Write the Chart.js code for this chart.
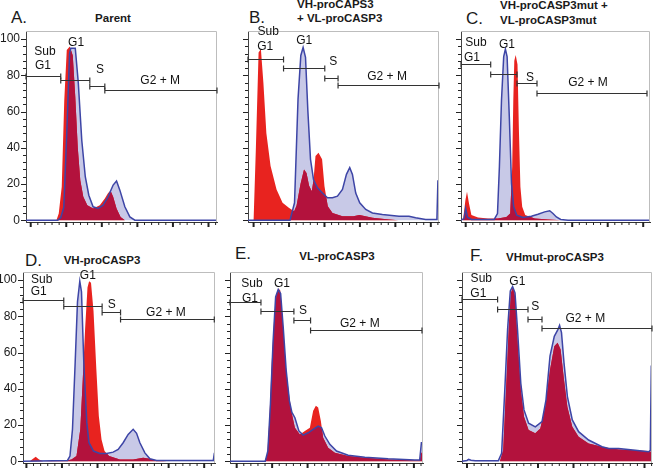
<!DOCTYPE html>
<html>
<head>
<meta charset="utf-8">
<script src="https://cdn.jsdelivr.net/npm/chart.js@4.4.1/dist/chart.umd.min.js"></script>
<style>
body{margin:0;background:#fff;}
#fig{position:relative;width:653px;height:471px;overflow:hidden;font-family:"Liberation Sans",Arial,sans-serif;color:#1a1a1a;}
#fig canvas{position:absolute;}
.t{position:absolute;white-space:nowrap;transform:translateY(-50%);line-height:1;}
.c{transform:translate(-50%,-50%);}
.letter{font-size:17px;}
.name{font-size:11.5px;font-weight:bold;}
</style>
</head>
<body>
<div id="fig">
  <div class="t letter" style="left:11px;top:17px">A.</div>
  <div class="t name c" style="left:113px;top:19px">Parent</div>
  <div class="t letter" style="left:249px;top:17px">B.</div>
  <div class="t name" style="left:297px;top:5px">VH-proCAPS3</div>
  <div class="t name" style="left:297px;top:19px">+ VL-proCASP3</div>
  <div class="t letter" style="left:466px;top:18px">C.</div>
  <div class="t name" style="left:500px;top:6px">VH-proCASP3mut +</div>
  <div class="t name" style="left:500px;top:21px">VL-proCASP3mut</div>
  <div class="t letter" style="left:25px;top:260px">D.</div>
  <div class="t name c" style="left:102px;top:261px">VH-proCASP3</div>
  <div class="t letter" style="left:235px;top:253px">E.</div>
  <div class="t name c" style="left:337px;top:257px">VL-proCASP3</div>
  <div class="t letter" style="left:470px;top:255px">F.</div>
  <div class="t name c" style="left:555px;top:258px">VHmut-proCASP3</div>
</div>
<script>
// DNA content histograms: [channel, % of max]
const redA = [[-4.7,0],[25.7,0],[28,3.7],[31,18.5],[33.5,66],[36,94],[39,96],[42,91],[44.5,68],[47,40],[49.5,22],[52.5,13],[56.5,8.3],[62.3,6.5],[69,8.3],[74,12],[77.3,15],[79.7,16.2],[82.3,13],[85.7,6.5],[89.7,1.8],[94,0],[186,0]];
const blueA = [[-4.7,0],[27,0],[30,1.5],[33,7],[36,48],[38.8,92],[40,95],[44.5,95],[47.5,76],[51,44],[54.5,24],[58,13.8],[62.3,7.4],[67.3,6.5],[72.3,8.3],[77.3,13],[82.3,19.4],[85.7,21.6],[89,16.6],[94,7.4],[99,1.8],[104,0],[186,0]];

const redB = [[-5.6,0],[0,0],[2.3,40],[5,92.6],[7.3,94.5],[9.8,76],[12.8,48],[17,30],[23,17],[29,9.6],[35.6,6.8],[40.6,5],[43,8],[47,20],[50.5,28],[53,26],[55.6,19],[58.3,16],[60,22],[62,35.4],[65,37.3],[68.6,33.6],[71,18.8],[74.3,7.7],[79,4],[89,2.2],[100,2.2],[106,2.8],[112,2.2],[119,1.3],[135.6,0.4],[145,0],[185.7,0]];
const blueB = [[-5.6,0],[36.5,0],[41,9.6],[44.5,66.8],[47.3,91],[49.6,95.4],[52,90],[54.3,61],[57,33.6],[60,22.5],[64,17.9],[69,15],[74,12.4],[79,12.4],[84,13.3],[89,17],[93,25.3],[96.3,29],[99,25.3],[102.3,15],[106.3,9.6],[112.3,5.9],[119,4],[129,3.1],[145.6,2.2],[155.6,2.2],[162.3,1.3],[172.3,0.4],[183.6,0.4],[184.6,21.6],[185.7,21.6]];

const redC = [[-4.7,0],[-2.7,0],[-0.3,11],[1.3,15.7],[3.3,9.2],[5.7,2.8],[12.3,1.5],[22.3,0.9],[32.3,0.9],[40.7,1.8],[44.5,3.7],[46.5,29.5],[47.6,66.4],[48.6,88],[50,91.3],[51.8,86],[53.2,50],[54.7,18.5],[56.5,7.4],[59.5,2.8],[69,0.9],[82.3,0.4],[95.7,0],[184.3,0]];
const blueC = [[-4.7,0],[-1.7,0.9],[0,6.5],[1.7,1.8],[5.7,0.4],[28.5,0.4],[31.8,3.7],[33.7,29.5],[35.8,66.4],[38,90.4],[39.7,94.5],[41.4,90.4],[43.6,57.2],[45.8,20.3],[48,7.4],[51,2.8],[57.3,1.5],[65.7,2.2],[72.3,3.3],[79,4.6],[84,5.2],[87.3,3.7],[90.7,1.8],[95,0.4],[102.3,0],[184.3,0]];

const redD = [[-3.4,0],[3.3,0],[6.6,1.3],[9.3,2.4],[12.6,0.9],[16.6,0],[40,0.4],[45,0.9],[50,2.8],[53.8,17.6],[56.3,45.4],[58.6,73],[61,96],[62.6,99.4],[64.5,98.5],[67,83],[69.8,51],[72.3,25],[75,12],[78,5.6],[82.5,2.8],[93.3,0.9],[106.6,0.9],[116.6,1.9],[123.3,1.3],[130,0.4],[140,0],[188.3,0]];
const blueD = [[-3.4,0],[41,0.4],[43.5,2.8],[46,17.6],[48.7,54.6],[51,88],[53.3,99.4],[55,93.5],[57.3,54.6],[60.3,21.3],[62.5,10.2],[67,5.6],[73.3,4.3],[80,4.3],[86.6,5],[91.6,6.5],[96.6,10.2],[101.6,14.8],[106.6,17.6],[110,15.4],[113.3,10.2],[118.3,4.6],[123.3,1.3],[130,0.4],[186.6,0.4],[187.6,4.3],[188.3,4.3]];

const redE = [[-6.7,0],[28,0],[30.6,3.7],[32.8,24],[35,53.7],[37.8,81.5],[40,92.6],[41.6,95.4],[43.6,94.4],[46.3,76],[49,53.7],[51.6,40.7],[54.6,27.8],[58.3,18.5],[63.3,14.8],[68.3,16.7],[73.3,18.5],[76.6,27.8],[79.3,30.6],[81.6,29.6],[84.3,22.2],[86.6,13],[91.6,7.4],[98.3,4.6],[111.6,2.8],[128.3,1.9],[151.6,0.9],[178.3,0.4],[183.3,0.4],[185,4.6],[186.6,4.6]];
const blueE = [[-6.7,0],[28.6,0],[31.2,5.6],[33.8,31.5],[36.5,66.7],[39,90.7],[41.6,94.8],[44,92.6],[46.6,74],[49.6,50],[52.8,33.3],[55.3,26.9],[58.3,24],[62.3,16.7],[66.6,14.4],[71.6,15.7],[76.6,17.6],[81.6,19.4],[85,18.5],[88.3,13.9],[93.3,9.3],[100,5.6],[111.6,3.3],[128.3,2.2],[151.6,1.3],[178.3,0.7],[183.3,0.7],[185,10.2],[186.6,10.2]];

const redF = [[-5,0],[33,0],[36.2,6],[39.5,45],[42,76.5],[44,93],[46,96],[48,91],[50.5,67],[53.8,39.4],[57,24.6],[61.6,17.2],[68.3,15.4],[73.3,18],[78.3,30],[83,50.5],[87.3,63.5],[90.6,65.4],[93.6,61.7],[97,45],[100.4,30],[105.3,19],[111.6,13.5],[121.6,9.8],[135,8],[151.6,6.5],[168.3,6],[181.6,5.6],[183.3,5.2],[185,5.2]];
const blueF = [[-5,0],[0,0.4],[1.6,1],[4,0.5],[8.3,0.2],[31.3,0.2],[34.6,4.3],[37.8,39.4],[40.6,72.8],[43.3,94],[45.6,96.5],[48,93],[50.5,72.8],[53.8,43],[57,28.3],[61.6,21],[68.3,19],[75,21.9],[79,33.9],[83,58],[87.3,69],[91,72.8],[92.6,75],[94.5,71],[97,54.3],[100.4,35.7],[105.3,22.8],[111.6,16.3],[121.6,11.7],[135,8],[141.6,7],[151.6,7],[168.3,6],[181.6,5.2],[183.3,6],[184.3,52.4],[185,52.4]];

// cell cycle gates: [from, to, marker level]
const gatesA = [[-4.7,30,79.7],[30,59,77.5],[59,74,74.2],[74,186,72]];
const gatesB = [[-5.6,30,89],[30,71.3,83.8],[71.3,84.6,78.8],[84.6,185.7,74.5]];
const gatesC = [[-4.7,25,86.2],[25,51.3,80.8],[51.3,71.3,75.6],[71.3,181.3,70.5]];
const gatesD = [[-3.4,37.3,88.9],[37.3,75.6,85.7],[75.6,94,82.4],[94,187.6,78.7]];
const gatesE = [[-6.7,24.3,88],[24.3,57.3,82.8],[57.3,74,77.8],[74,185.6,72.2]];
const gatesF = [[-5,30.6,89.8],[30.6,61,83.9],[61,75,78.7],[75,185,73.3]];

const gateNames = ["Sub", "G1", "G1", "S", "G2 + M"];
const yTicks = [0,4,8,12,16,20,24,28,32,36,40,44,48,52,56,60,64,68,72,76,80,84,88,92,96,100];

const RED = "#e8231f";
const LAVENDER = "#c8c9e7";
const BLUE = "#3d45a6";
const OVERLAP = "#b3123d";
const X_MINOR = 7.1;
const PLOT_H = 191, H_AXIS = 10, PAD_R = 4, W_AXIS = 8;

const panels = [
  {red: redA, blue: blueA, gates: gatesA, xMin: -4.7, xMax: 186, axisX: 26, rowTop: 0, padTop: 31, yLabels: true,
   tags: [[14.3,92.8],[12.3,85.6],[45.3,98.3],[69.3,82.9],[129.3,76.8]]},
  {red: redB, blue: blueB, gates: gatesB, xMin: -5.6, xMax: 185.7, axisX: 248, rowTop: 0, padTop: 31, yLabels: false,
   tags: [[14.7,103.9],[11.7,96.1],[50.7,98.9],[79.7,87.3],[133.7,79]]},
  {red: redC, blue: blueC, gates: gatesC, xMin: -4.7, xMax: 184.3, axisX: 461, rowTop: 0, padTop: 31, yLabels: false,
   tags: [[10.3,97.8],[6.3,90],[41.3,97.2],[64.3,78.5],[122.3,75.7]]},
  {red: redD, blue: blueD, gates: gatesD, xMin: -3.4, xMax: 188.3, axisX: 23, rowTop: 236, padTop: 36, yLabels: true,
   tags: [[15.3,100.5],[12.3,93.4],[61.3,102.2],[85.3,86.7],[139.3,82.3]]},
  {red: redE, blue: blueE, gates: gatesE, xMin: -6.7, xMax: 186.6, axisX: 230, rowTop: 236, padTop: 36, yLabels: false,
   tags: [[15.3,97.8],[13.3,89.5],[45.3,97.8],[66.3,82.9],[123.3,75.7]]},
  {red: redF, blue: blueF, gates: gatesF, xMin: -5, xMax: 185, axisX: 462, rowTop: 236, padTop: 36, yLabels: false,
   tags: [[14.3,101],[11.3,92.3],[50.3,99.4],[68.3,85.6],[118.3,78.5]]}
];

// outline of a filled trace down to the zero line
function tracePath(ctx, pts, base){
    ctx.moveTo(pts[0].x, base);
    pts.forEach(pt => ctx.lineTo(pt.x, pt.y));
    ctx.lineTo(pts[pts.length - 1].x, base);
    ctx.closePath();
}

const histPlugin = {
    id: "hist",

    // darker colour where the two populations overlap
    beforeDatasetDraw(chart, args){
        if(args.index !== 2) return;
        const ctx = chart.ctx;
        const area = chart.chartArea;
        const base = chart.scales.y.getPixelForValue(0);
        ctx.save();
        ctx.beginPath();
        ctx.rect(area.left, area.top, area.width, area.height);
        ctx.clip();
        ctx.beginPath();
        tracePath(ctx, chart.getDatasetMeta(1).data, base);
        ctx.clip();
        ctx.beginPath();
        tracePath(ctx, chart.getDatasetMeta(0).data, base);
        ctx.fillStyle = OVERLAP;
        ctx.fill();
        ctx.restore();
    },

    afterDraw(chart, args, opts){
        const ctx = chart.ctx;
        const a = chart.chartArea;
        const xs = chart.scales.x;
        const ys = chart.scales.y;
        ctx.save();

        // light frame on top and right
        ctx.strokeStyle = "#bdbdbd";
        ctx.lineWidth = 1;
        ctx.beginPath();
        ctx.moveTo(a.left, a.top + 0.5);
        ctx.lineTo(a.right - 0.5, a.top + 0.5);
        ctx.lineTo(a.right - 0.5, a.bottom);
        ctx.stroke();

        // tick marks, long for major
        ctx.strokeStyle = "#222";
        xs.ticks.forEach(t => {
            const px = xs.getPixelForValue(t.value);
            const major = Math.round(t.value / X_MINOR) % 5 === 0;
            ctx.lineWidth = major ? 2 : 1;
            ctx.beginPath();
            ctx.moveTo(px, a.bottom);
            ctx.lineTo(px, a.bottom + (major ? 5 : 3));
            ctx.stroke();
        });
        ys.ticks.forEach(t => {
            const py = Math.round(ys.getPixelForValue(t.value)) + 0.5;
            const major = t.value % 20 === 0;
            ctx.lineWidth = 1;
            ctx.beginPath();
            ctx.moveTo(a.left, py);
            ctx.lineTo(a.left - (major ? 5 : 3), py);
            ctx.stroke();
        });

        // gate markers
        ctx.strokeStyle = "#333";
        ctx.lineWidth = 1.2;
        opts.gates.forEach(g => {
            const x0 = xs.getPixelForValue(g[0]);
            const x1 = xs.getPixelForValue(g[1]);
            const py = Math.round(ys.getPixelForValue(g[2])) + 0.5;
            ctx.beginPath();
            ctx.moveTo(x0, py); ctx.lineTo(x1, py);
            ctx.moveTo(x0, py - 3); ctx.lineTo(x0, py + 3);
            ctx.moveTo(x1, py - 3); ctx.lineTo(x1, py + 3);
            ctx.stroke();
        });

        ctx.fillStyle = "#111";
        ctx.font = "12px 'Liberation Sans', Arial, sans-serif";
        ctx.textAlign = "center";
        ctx.textBaseline = "middle";
        opts.tags.forEach((t, i) => {
            ctx.fillText(gateNames[i], xs.getPixelForValue(t[0]), ys.getPixelForValue(t[1]));
        });
        ctx.restore();
    }
};

const fig = document.getElementById("fig");

panels.forEach(p => {
    const yw = p.yLabels ? p.axisX : W_AXIS;
    const w = Math.round(yw + (p.xMax - p.xMin) + PAD_R);
    const h = p.padTop + PLOT_H + H_AXIS;
    const canvas = document.createElement("canvas");
    canvas.width = w;
    canvas.height = h;
    canvas.style.width = w + "px";
    canvas.style.height = h + "px";
    canvas.style.left = (p.axisX - yw) + "px";
    canvas.style.top = p.rowTop + "px";
    fig.appendChild(canvas);

    const toXY = arr => arr.map(d => ({x: d[0], y: d[1]}));

    new Chart(canvas, {
        type: "line",
        data: {
            datasets: [
                {data: toXY(p.blue), fill: "origin", backgroundColor: LAVENDER, borderWidth: 0, order: 3},
                {data: toXY(p.red), fill: "origin", backgroundColor: RED, borderWidth: 0, order: 2},
                {data: toXY(p.blue), fill: false, borderColor: BLUE, borderWidth: 1.5, order: 1}
            ]
        },
        options: {
            responsive: false,
            animation: false,
            devicePixelRatio: 1,
            layout: {padding: {top: p.padTop, right: PAD_R, left: 0, bottom: 0}},
            elements: {point: {radius: 0}, line: {tension: 0}},
            plugins: {
                legend: {display: false},
                tooltip: {enabled: false},
                hist: {gates: p.gates, tags: p.tags}
            },
            scales: {
                x: {
                    type: "linear",
                    min: p.xMin,
                    max: p.xMax,
                    afterBuildTicks: s => {
                        const ticks = [];
                        for(let k = 0; k * X_MINOR <= p.xMax; k++) ticks.push({value: k * X_MINOR});
                        s.ticks = ticks;
                    },
                    afterFit: s => { s.height = H_AXIS; },
                    grid: {display: false},
                    border: {display: true, color: "#333", width: 1},
                    ticks: {display: false}
                },
                y: {
                    min: -1,
                    max: 104.5,
                    afterBuildTicks: s => { s.ticks = yTicks.map(v => ({value: v})); },
                    afterFit: s => { s.width = yw; },
                    grid: {display: true, drawOnChartArea: false, drawTicks: true, tickLength: 5, tickColor: "rgba(0,0,0,0)"},
                    border: {display: true, color: "#444", width: 1},
                    ticks: {
                        display: p.yLabels,
                        autoSkip: false,
                        padding: 1,
                        color: "#1a1a1a",
                        font: {size: 12, family: "'Liberation Sans', Arial, sans-serif"},
                        callback: v => v % 20 === 0 ? v : ""
                    }
                }
            }
        },
        plugins: [histPlugin]
    });
});
</script>
</body>
</html>
